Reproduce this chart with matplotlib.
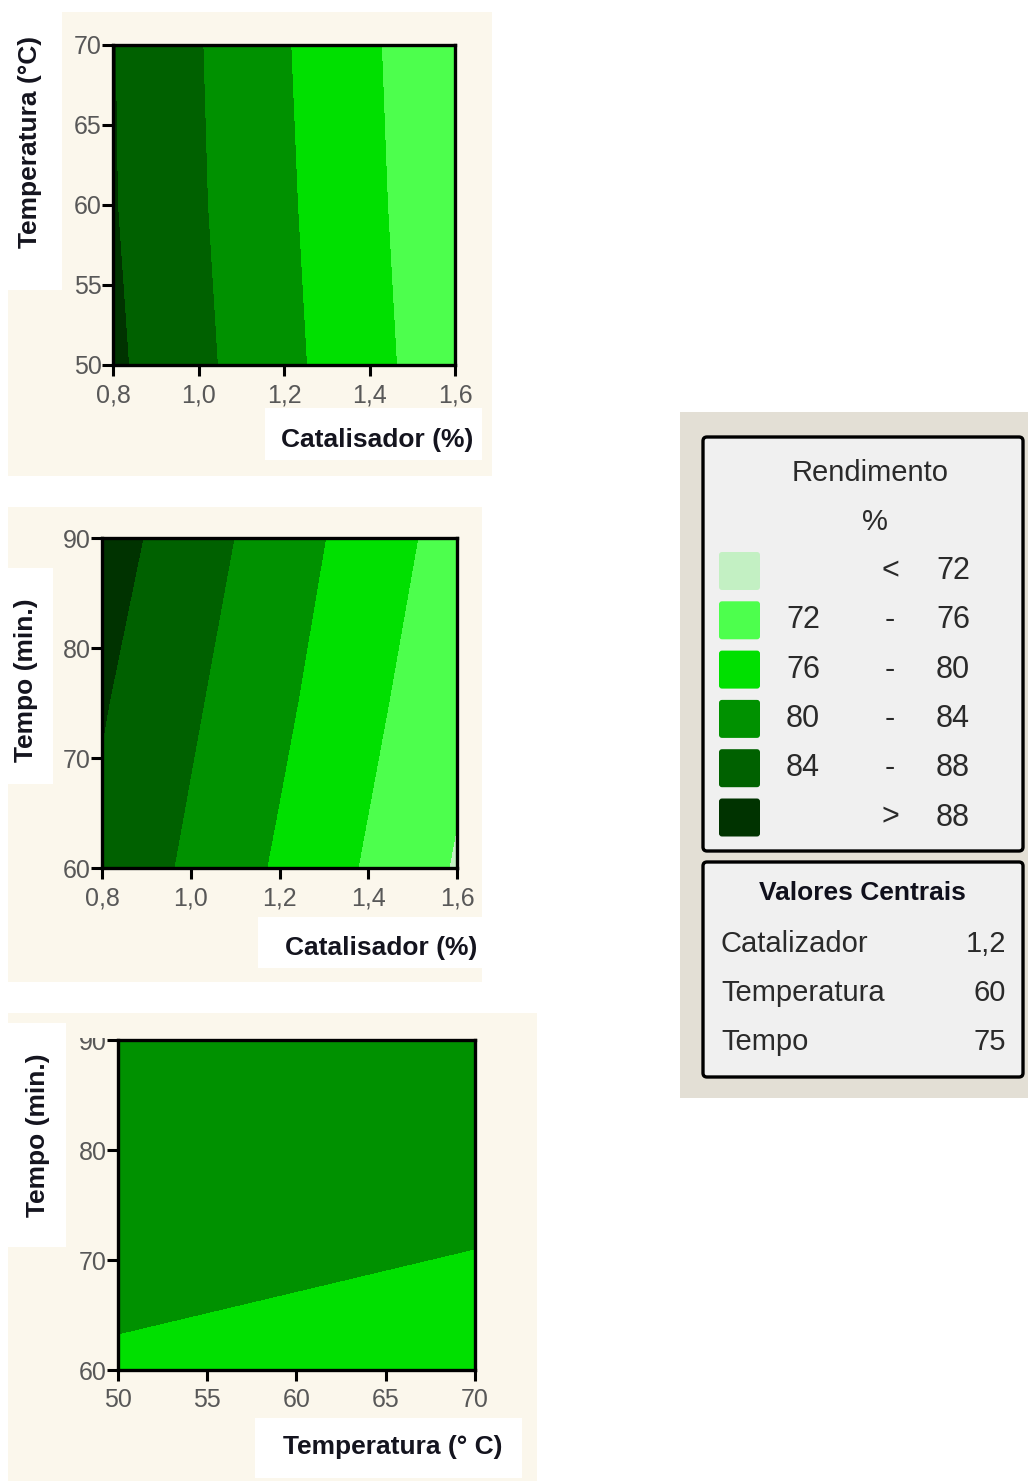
import numpy as np
import matplotlib.pyplot as plt
from matplotlib.patches import Rectangle, FancyBboxPatch

W, H = 1028, 1481

# níveis dos fatores usados na leitura das superfícies
CATALISADOR = [0.8, 1.2, 1.6]
TEMPERATURA = [50, 60, 70]
TEMPO = [60, 75, 90]

# rendimento (%): linhas = eixo y, colunas = eixo x
REND_CAT_TEMP = [
    [88.7, 81.0, 73.4],    # T = 50
    [88.2, 80.6, 73.0],    # T = 60
    [88.1, 80.3, 72.75],   # T = 70
]
REND_CAT_TEMPO = [
    [87.1, 79.45, 71.65],  # t = 60
    [88.3, 80.8, 73.0],    # t = 75
    [89.8, 82.0, 74.3],    # t = 90
]
REND_TEMP_TEMPO = [
    [79.72, 79.39, 79.06],
    [81.0, 80.67, 80.34],
    [82.27, 81.94, 81.61],
]

NIVEIS = [0, 72, 76, 80, 84, 88, 100]
CORES = ["#c3f0c3", "#4dff4d", "#00e000", "#009100", "#006100", "#003300"]
FAIXA_INI = ["", "72", "76", "80", "84", ""]
FAIXA_SIMB = ["<", "-", "-", "-", "-", ">"]
FAIXA_FIM = ["72", "76", "80", "84", "88", "88"]

CENTRAIS_NOMES = ["Catalizador", "Temperatura", "Tempo"]
CENTRAIS_VALORES = ["1,2", "60", "75"]

CREME = "#fbf7ec"
COR_TICK = "#585858"
COR_ROTULO = "#14141e"

PAINEIS = [
    {
        "x": CATALISADOR, "y": TEMPERATURA, "z": REND_CAT_TEMP,
        "xticks": [0.8, 1.0, 1.2, 1.4, 1.6], "yticks": [50, 55, 60, 65, 70],
        "xdec": 1, "xlabel": "Catalisador (%)", "ylabel": "Temperatura (°C)",
        "fundo": (8, 12, 492, 476), "eixos": (113, 45, 455, 365),
        "caixa_y": (8, 12, 62, 290), "caixa_x": (265, 408, 482, 460),
        "pos_y": (30, 142), "pos_x": (377, 440),
    },
    {
        "x": CATALISADOR, "y": TEMPO, "z": REND_CAT_TEMPO,
        "xticks": [0.8, 1.0, 1.2, 1.4, 1.6], "yticks": [60, 70, 80, 90],
        "xdec": 1, "xlabel": "Catalisador (%)", "ylabel": "Tempo (min.)",
        "fundo": (8, 507, 482, 982), "eixos": (102, 538, 457, 868),
        "caixa_y": (8, 568, 53, 784), "caixa_x": (258, 917, 482, 968),
        "pos_y": (26, 680), "pos_x": (381, 948),
    },
    {
        "x": TEMPERATURA, "y": TEMPO, "z": REND_TEMP_TEMPO,
        "xticks": [50, 55, 60, 65, 70], "yticks": [60, 70, 80, 90],
        "xdec": 0, "xlabel": "Temperatura (° C)", "ylabel": "Tempo (min.)",
        "fundo": (8, 1013, 537, 1481), "eixos": (118, 1040, 475, 1370),
        "caixa_y": (8, 1023, 66, 1247), "caixa_x": (255, 1418, 522, 1478),
        "pos_y": (38, 1135), "pos_x": (393, 1447),
    },
]


def caixa_fig(x0, y0, x1, y1):
    """Converte um retângulo em pixels (origem no topo) para coordenadas da figura."""
    return [x0 / W, 1 - y1 / H, (x1 - x0) / W, (y1 - y0) / H]


def ret(ax, x0, y0, x1, y1, cor, **kw):
    ax.add_patch(Rectangle((x0, y0), x1 - x0, y1 - y0, facecolor=cor, edgecolor="none", **kw))


def desenha_painel(fig, fundo, p):
    ret(fundo, *p["fundo"], CREME)
    ret(fundo, *p["caixa_y"], "white")
    ret(fundo, *p["caixa_x"], "white")
    fundo.text(*p["pos_y"], p["ylabel"], rotation=90, ha="center", va="center",
               fontsize=19, fontweight="bold", color=COR_ROTULO, family="Liberation Sans")
    fundo.text(*p["pos_x"], p["xlabel"], ha="center", va="center",
               fontsize=19, fontweight="bold", color=COR_ROTULO, family="Liberation Sans")

    ax = fig.add_axes(caixa_fig(*p["eixos"]))
    X, Y = np.meshgrid(p["x"], p["y"])
    ax.contourf(X, Y, np.array(p["z"]), levels=NIVEIS, colors=CORES)
    ax.set_xlim(p["x"][0], p["x"][-1])
    ax.set_ylim(p["y"][0], p["y"][-1])

    ax.set_xticks(p["xticks"])
    ax.set_yticks(p["yticks"])
    ax.set_xticklabels([f"{v:.{p['xdec']}f}".replace(".", ",") for v in p["xticks"]])
    ax.set_yticklabels([str(v) for v in p["yticks"]])
    ax.tick_params(direction="out", length=8, width=2.2, color="black",
                   labelsize=18, labelcolor=COR_TICK)
    ax.tick_params(axis="x", pad=5)
    ax.tick_params(axis="y", pad=0)
    for lab in ax.get_xticklabels() + ax.get_yticklabels():
        lab.set_family("Liberation Sans")
    for s in ax.spines.values():
        s.set_linewidth(2.4)
        s.set_color("black")
    return ax


def desenha_legenda(fundo):
    ret(fundo, 680, 412, 1028, 1098, "#e3dfd5")
    for y0, y1 in [(437, 851), (862, 1077)]:
        fundo.add_patch(FancyBboxPatch((703, y0), 320, y1 - y0,
                                       boxstyle="round,pad=0,rounding_size=4",
                                       facecolor="#f0f0f0", edgecolor="black", linewidth=2.4))
    txt = dict(family="Liberation Sans", color="#2a2a2a", va="center")
    fundo.text(870, 473, "Rendimento", ha="center", fontsize=21, **txt)
    fundo.text(875, 522, "%", ha="center", fontsize=21, **txt)

    for i, cor in enumerate(CORES):
        yc = 571 + i * 49.3
        fundo.add_patch(FancyBboxPatch((719, yc - 19), 41, 38,
                                       boxstyle="round,pad=0,rounding_size=3",
                                       facecolor=cor, edgecolor="none"))
        fundo.text(803, yc, FAIXA_INI[i], ha="center", fontsize=22, **txt)
        fundo.text(890, yc, FAIXA_SIMB[i], ha="center", fontsize=22, **txt)
        fundo.text(953, yc, FAIXA_FIM[i], ha="center", fontsize=22, **txt)

    fundo.text(862, 893, "Valores Centrais", ha="center", va="center", fontsize=19,
               fontweight="bold", color="#10101c", family="Liberation Sans")
    for i, (nome, valor) in enumerate(zip(CENTRAIS_NOMES, CENTRAIS_VALORES)):
        yc = 944 + i * 49
        fundo.text(721, yc, nome, ha="left", fontsize=21, **txt)
        fundo.text(1006, yc, valor, ha="right", fontsize=21, **txt)


def main():
    fig = plt.figure(figsize=(W / 100, H / 100), dpi=100)
    fig.patch.set_facecolor("white")

    # camada de fundo em pixels (caixas creme, rótulos e legenda)
    fundo = fig.add_axes([0, 0, 1, 1], zorder=-1)
    fundo.set_xlim(0, W)
    fundo.set_ylim(H, 0)
    fundo.axis("off")

    for p in PAINEIS:
        desenha_painel(fig, fundo, p)
    desenha_legenda(fundo)

    # metade superior do "90" do último painel aparece cortada na imagem original
    fig.add_artist(Rectangle((66 / W, 1 - 1038 / H), 46 / W, 25 / H,
                             transform=fig.transFigure, facecolor=CREME,
                             edgecolor="none", zorder=10))

    fig.savefig("out.png", dpi=100)
    plt.close(fig)


if __name__ == "__main__":
    main()
